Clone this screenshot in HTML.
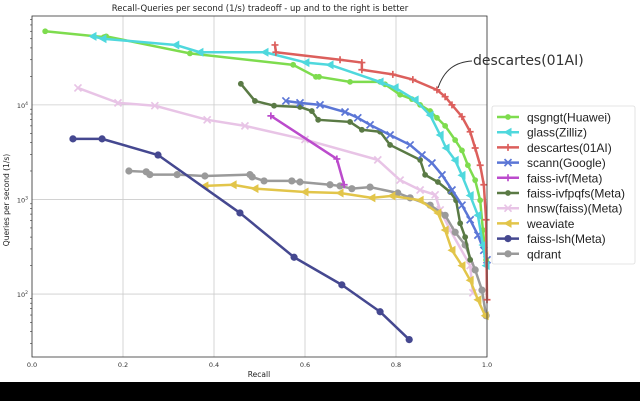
<!DOCTYPE html>
<html><head><meta charset="utf-8"><style>
body{margin:0;background:#fff;width:640px;height:401px;overflow:hidden;font-family:"DejaVu Sans","Liberation Sans",sans-serif}
</style></head><body>
<svg id="chart" width="640" height="401" xmlns="http://www.w3.org/2000/svg">
<rect width="640" height="401" fill="#fff"/>
<rect x="0" y="382" width="640" height="19" fill="#000"/>
<text x="260" y="11" font-size="8.5" text-anchor="middle" fill="#222">Recall-Queries per second (1/s) tradeoff - up and to the right is better</text>
<text x="259" y="377" font-size="7.5" text-anchor="middle" fill="#222">Recall</text>
<text x="9" y="200" font-size="7.5" text-anchor="middle" fill="#222" transform="rotate(-90 9 200)">Queries per second (1/s)</text>
<g id="grid"></g><g id="series"></g><g id="axes"></g><g id="legend"></g>
<path d="M438,88 C444,70 455,62 472,61" fill="none" stroke="#333" stroke-width="1"/>
<text x="473" y="65" font-size="14" fill="#333">descartes(01AI)</text>
</svg>
<script>
const xTicks=[0,0.2,0.4,0.6,0.8,1.0];
const xTickLabels=["0.0","0.2","0.4","0.6","0.8","1.0"];
const yTicks=[100,1000,10000];
const yTickExp=["2","3","4"];
const seriesNames=["qsgngt(Huawei)","glass(Zilliz)","descartes(01AI)","scann(Google)","faiss-ivf(Meta)","faiss-ivfpqfs(Meta)","hnsw(faiss)(Meta)","weaviate","faiss-lsh(Meta)","qdrant"];
const qsgngtRecall=[0.029,0.158,0.163,0.347,0.574,0.624,0.631,0.699,0.765,0.776,0.809,0.835,0.853,0.875,0.890,0.908,0.930,0.945,0.958,0.974,0.985,0.991,0.998];
const qsgngtQps=[60000,52000,53000,35000,26500,19800,19800,17500,17500,16500,12800,11500,10000,8600,7300,6000,4250,3300,2300,1600,980,475,230];
const glassRecall=[0.134,0.156,0.316,0.369,0.512,0.602,0.655,0.765,0.798,0.842,0.875,0.897,0.910,0.930,0.945,0.963,0.980,0.991,0.998];
const glassQps=[53000,50000,43000,36000,36000,28000,26500,17500,15200,11300,7800,4800,3500,2600,1800,1100,680,330,200];
const descartesRecall=[0.534,0.536,0.677,0.725,0.725,0.793,0.837,0.890,0.908,0.923,0.945,0.963,0.974,0.985,0.993,0.998,1.0];
const descartesQps=[43000,36000,30000,28000,23500,21000,18500,14400,12200,10000,7500,5200,3500,2300,1430,610,87];
const scannRecall=[0.558,0.589,0.633,0.688,0.716,0.743,0.787,0.831,0.857,0.879,0.901,0.923,0.945,0.963,0.980,0.993,1.0];
const scannQps=[11000,10500,10000,8400,7300,6150,4800,3770,2950,2430,1820,1260,870,610,420,290,230];
const ivfRecall=[0.525,0.670,0.686];
const ivfQps=[7650,2680,1430];
const ivfpqfsRecall=[0.459,0.490,0.532,0.589,0.615,0.629,0.699,0.725,0.765,0.787,0.853,0.864,0.892,0.919,0.932,0.941,0.952,0.963];
const ivfpqfsQps=[16700,11000,9800,9500,8600,6950,6600,5450,5200,3770,2620,1820,1530,1200,980,560,400,230];
const hnswRecall=[0.101,0.189,0.270,0.385,0.468,0.600,0.760,0.809,0.853,0.886,0.897,0.919,0.963,0.969];
const hnswQps=[15100,10500,9800,6950,6000,4300,2620,1600,1260,1120,775,475,200,103];
const weaviateRecall=[0.380,0.442,0.490,0.600,0.677,0.747,0.791,0.853,0.892,0.908,0.923,0.945,0.963,0.980,0.996];
const weaviateQps=[1390,1430,1300,1200,1170,1040,1090,980,720,475,290,200,140,87,59];
const lshRecall=[0.090,0.154,0.277,0.457,0.576,0.681,0.765,0.829];
const lshQps=[4370,4370,2950,720,245,125,65,33];
const qdrantRecall=[0.213,0.251,0.259,0.319,0.380,0.479,0.484,0.510,0.571,0.589,0.655,0.677,0.703,0.743,0.804,0.831,0.875,0.908,0.930,0.952,0.974,0.989,0.998];
const qdrantQps=[2000,1960,1830,1830,1770,1830,1730,1570,1570,1530,1430,1390,1300,1350,1170,1040,870,680,450,330,180,110,59];

const X0=32,X1=487,Y0=16,Y1=357;
const yTop=Math.log10(87000),yBot=Math.log10(21.6);
const xs=v=>X0+v*(X1-X0);
const ys=v=>Y0+(yTop-Math.log10(v))/(yTop-yBot)*(Y1-Y0);
const NS="http://www.w3.org/2000/svg";
function mk(tag,attrs,parent){const e=document.createElementNS(NS,tag);for(const k in attrs)e.setAttribute(k,attrs[k]);parent.appendChild(e);return e;}
const grid=document.getElementById('grid'),axes=document.getElementById('axes'),ser=document.getElementById('series'),leg=document.getElementById('legend');
xTicks.forEach((t,i)=>{
  const l=mk('line',{x1:xs(t),x2:xs(t),y1:Y0,y2:Y1,stroke:'#ccc','stroke-width':0.8},grid);
  
  
  const tx=mk('text',{x:xs(t),y:Y1+10,'font-size':6.5,'text-anchor':'middle',fill:'#333'},axes);
  tx.textContent=xTickLabels[i];
  
  
});
yTicks.forEach((t,i)=>{
  const l=mk('line',{x1:X0,x2:X1,y1:ys(t),y2:ys(t),stroke:'#ccc','stroke-width':0.8},grid);
  
  
  const tx=mk('text',{x:X0-4,y:ys(t)+3,'font-size':6.5,'text-anchor':'end',fill:'#333'},axes);
  tx.innerHTML='10<tspan dy="-3" font-size="4.5">'+yTickExp[i]+'</tspan>';
  
  
});
for(let d=1;d<=4;d++){for(let m=2;m<=9;m++){const v=m*Math.pow(10,d);const y=ys(v);if(y<Y0||y>Y1)continue;mk('line',{x1:X0-2,x2:X0,y1:y,y2:y,stroke:'#333','stroke-width':0.6},axes);}}
const frame=mk('rect',{x:X0,y:Y0,width:X1-X0,height:Y1-Y0,fill:'none',stroke:'#333','stroke-width':0.8},axes);



function marker(type,x,y,c,g){
  if(type==='o')mk('circle',{cx:x,cy:y,r:3.6,fill:c},g);
  else if(type==='<')mk('polygon',{points:`${x-4.5},${y} ${x+3.5},${y-4.5} ${x+3.5},${y+4.5}`,fill:c},g);
  else if(type==='x'){mk('path',{d:`M${x-3.5},${y-3.5}L${x+3.5},${y+3.5}M${x-3.5},${y+3.5}L${x+3.5},${y-3.5}`,stroke:c,'stroke-width':1.7},g);}
  else if(type==='+'){mk('path',{d:`M${x-3.5},${y}L${x+3.5},${y}M${x},${y-3.5}L${x},${y+3.5}`,stroke:c,'stroke-width':1.7},g);}
  else if(type==='p')mk('circle',{cx:x,cy:y,r:2.9,fill:c},g);
}
const allR=[qsgngtRecall,glassRecall,descartesRecall,scannRecall,ivfRecall,ivfpqfsRecall,hnswRecall,weaviateRecall,lshRecall,qdrantRecall];
const allQ=[qsgngtQps,glassQps,descartesQps,scannQps,ivfQps,ivfpqfsQps,hnswQps,weaviateQps,lshQps,qdrantQps];
const colors=['#7edc4e','#4fd8dd','#dc5f5c','#5b76d6','#bb4bcc','#5a7a45','#e8c4e6','#e2c54a','#454890','#9a9a9a'];
const markers=['p','<','+','x','+','p','x','<','o','o'];
const order=[6,9,7,8,5,4,3,0,1,2];
order.forEach(i=>{
  const g=mk('g',{},ser);
  
  
  const pts=allR[i].map((r,j)=>xs(r)+','+ys(allQ[i][j])).join(' ');
  mk('polyline',{points:pts,fill:'none',stroke:colors[i],'stroke-width':2.5,'stroke-linejoin':'round'},g);
  allR[i].forEach((r,j)=>marker(markers[i],xs(r),ys(allQ[i][j]),colors[i],g));
});
const lb=mk('rect',{x:492,y:106,width:143,height:158,fill:'#fff',stroke:'#ddd','stroke-width':0.8,rx:2},leg);


seriesNames.forEach((n,i)=>{
  const y=117+i*15.2;
  const g=mk('g',{},leg);
  
  
  mk('line',{x1:497,x2:519,y1:y,y2:y,stroke:colors[i],'stroke-width':2.5},g);
  marker(markers[i],508,y,colors[i],g);
  const t=mk('text',{x:527,y:y+4.5,'font-size':12,'font-family':'"Liberation Sans",sans-serif',fill:'#222'},g);
  t.textContent=n;
});
</script>
</body></html>
